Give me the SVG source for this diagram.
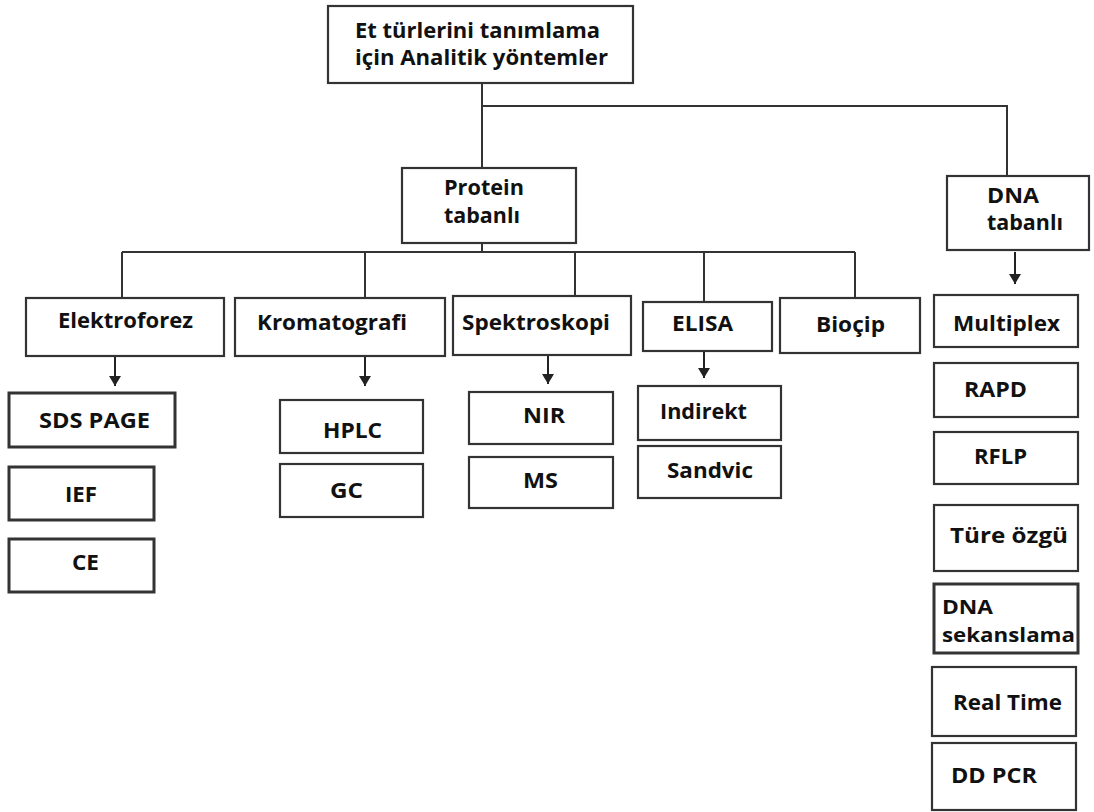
<svg xmlns="http://www.w3.org/2000/svg" width="1094" height="812" viewBox="0 0 1094 812">
<defs>
<marker id="ah" markerWidth="6" markerHeight="6" refX="5" refY="3" orient="auto" markerUnits="strokeWidth">
<path d="M0,0 L5,3 L0,6 Z" fill="#222"/>
</marker>
</defs>
<style>
.b{fill:#fff;stroke:#333;stroke-width:2.2}
.k{stroke-width:3}
.t{font-family:"Open Sans","DejaVu Sans",sans-serif;font-weight:700;font-size:21px;fill:#111}
.s{font-size:20px}
.c{fill:none;stroke:#333;stroke-width:2}
.a{fill:none;stroke:#222;stroke-width:2;marker-end:url(#ah)}
</style>
<rect width="1094" height="812" fill="#fff"/>
<g id="connectors">
<path class="c" d="M482,83 V168 M482,106 H1007 V176"/>
<path class="c" d="M482,243 V252 M122,252 H855 M122,252 V298 M365,252 V298 M575,252 V297 M704,252 V302 M855,252 V298"/>
<line class="a" x1="115" y1="356" x2="115" y2="386"/>
<line class="a" x1="365" y1="353" x2="365" y2="386"/>
<line class="a" x1="548" y1="355" x2="548" y2="384"/>
<line class="a" x1="704" y1="347" x2="704" y2="378"/>
<line class="a" x1="1015" y1="252" x2="1015" y2="284"/>
</g>
<g id="root"><rect class="b" x="328" y="6" width="305" height="77"/>
<text class="t" x="355" y="38" textLength="245" lengthAdjust="spacingAndGlyphs">Et türlerini tanımlama</text>
<text class="t" x="355" y="65" textLength="253" lengthAdjust="spacingAndGlyphs">için Analitik yöntemler</text></g>
<g id="protein"><rect class="b" x="402" y="168" width="174" height="75"/>
<text class="t" x="444" y="195" textLength="80" lengthAdjust="spacingAndGlyphs">Protein</text>
<text class="t" x="444" y="223" textLength="76" lengthAdjust="spacingAndGlyphs">tabanlı</text></g>
<g id="dna"><rect class="b" x="947" y="176" width="142" height="74"/>
<text class="t" x="987" y="203" textLength="52" lengthAdjust="spacingAndGlyphs">DNA</text>
<text class="t" x="987" y="230" textLength="76" lengthAdjust="spacingAndGlyphs">tabanlı</text></g>
<g id="elektroforez"><rect class="b" x="26" y="298" width="198" height="58"/>
<text class="t" x="58" y="328" textLength="135" lengthAdjust="spacingAndGlyphs">Elektroforez</text></g>
<g id="kromatografi"><rect class="b" x="235" y="298" width="210" height="58"/>
<text class="t" x="257" y="330" textLength="150" lengthAdjust="spacingAndGlyphs">Kromatografi</text></g>
<g id="spektroskopi"><rect class="b" x="453" y="296" width="178" height="59"/>
<text class="t" x="462" y="330" textLength="148" lengthAdjust="spacingAndGlyphs">Spektroskopi</text></g>
<g id="elisa"><rect class="b" x="643" y="302" width="129" height="49"/>
<text class="t" x="672" y="331" textLength="61" lengthAdjust="spacingAndGlyphs">ELISA</text></g>
<g id="biocip"><rect class="b" x="780" y="298" width="140" height="55"/>
<text class="t" x="816" y="332" textLength="69" lengthAdjust="spacingAndGlyphs">Bioçip</text></g>
<g id="sdspage"><rect class="b k" x="9" y="393" width="166" height="54"/>
<text class="t" x="39" y="428" textLength="111" lengthAdjust="spacingAndGlyphs">SDS PAGE</text></g>
<g id="ief"><rect class="b k" x="9" y="467" width="145" height="53"/>
<text class="t" x="65" y="502" textLength="32" lengthAdjust="spacingAndGlyphs">IEF</text></g>
<g id="ce"><rect class="b k" x="9" y="539" width="145" height="53"/>
<text class="t" x="72" y="570" textLength="27" lengthAdjust="spacingAndGlyphs">CE</text></g>
<g id="hplc"><rect class="b" x="280" y="400" width="143" height="53"/>
<text class="t" x="323" y="438" textLength="59" lengthAdjust="spacingAndGlyphs">HPLC</text></g>
<g id="gc"><rect class="b" x="280" y="464" width="143" height="53"/>
<text class="t" x="330" y="498" textLength="33" lengthAdjust="spacingAndGlyphs">GC</text></g>
<g id="nir"><rect class="b" x="469" y="392" width="144" height="52"/>
<text class="t" x="523" y="423" textLength="42" lengthAdjust="spacingAndGlyphs">NIR</text></g>
<g id="ms"><rect class="b" x="469" y="457" width="144" height="51"/>
<text class="t" x="523" y="488" textLength="35" lengthAdjust="spacingAndGlyphs">MS</text></g>
<g id="indirekt"><rect class="b" x="638" y="386" width="143" height="54"/>
<text class="t" x="660" y="419" textLength="87" lengthAdjust="spacingAndGlyphs">Indirekt</text></g>
<g id="sandvic"><rect class="b" x="638" y="446" width="143" height="52"/>
<text class="t" x="667" y="478" textLength="86" lengthAdjust="spacingAndGlyphs">Sandvic</text></g>
<g id="multiplex"><rect class="b" x="934" y="295" width="144" height="52"/>
<text class="t" x="953" y="331" textLength="107" lengthAdjust="spacingAndGlyphs">Multiplex</text></g>
<g id="rapd"><rect class="b" x="934" y="363" width="144" height="54"/>
<text class="t" x="964" y="397" textLength="63" lengthAdjust="spacingAndGlyphs">RAPD</text></g>
<g id="rflp"><rect class="b" x="934" y="432" width="144" height="52"/>
<text class="t" x="974" y="464" textLength="53" lengthAdjust="spacingAndGlyphs">RFLP</text></g>
<g id="tureozgu"><rect class="b" x="934" y="505" width="144" height="66"/>
<text class="t" x="950" y="543" textLength="118" lengthAdjust="spacingAndGlyphs">Türe özgü</text></g>
<g id="dnasekanslama"><rect class="b k" x="934" y="584" width="144" height="69"/>
<text class="t s" x="942" y="614" textLength="51" lengthAdjust="spacingAndGlyphs">DNA</text>
<text class="t s" x="942" y="642" textLength="133" lengthAdjust="spacingAndGlyphs">sekanslama</text></g>
<g id="realtime"><rect class="b" x="932" y="667" width="144" height="69"/>
<text class="t" x="953" y="710" textLength="109" lengthAdjust="spacingAndGlyphs">Real Time</text></g>
<g id="ddpcr"><rect class="b" x="932" y="743" width="144" height="67"/>
<text class="t" x="951" y="783" textLength="86" lengthAdjust="spacingAndGlyphs">DD PCR</text></g>
</svg>
